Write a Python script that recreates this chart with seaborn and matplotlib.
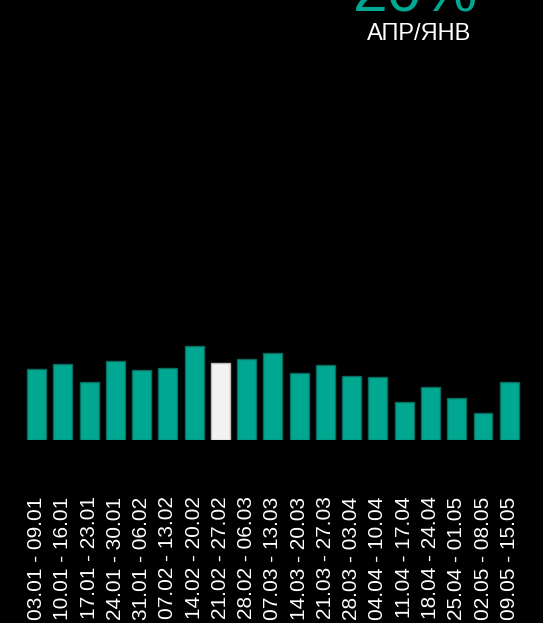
import matplotlib
matplotlib.use("Agg")
import matplotlib.pyplot as plt
import seaborn as sns
import pandas as pd

weeks = ["03.01 - 09.01", "10.01 - 16.01", "17.01 - 23.01", "24.01 - 30.01",
         "31.01 - 06.02", "07.02 - 13.02", "14.02 - 20.02", "21.02 - 27.02",
         "28.02 - 06.03", "07.03 - 13.03", "14.03 - 20.03", "21.03 - 27.03",
         "28.03 - 03.04", "04.04 - 10.04", "11.04 - 17.04", "18.04 - 24.04",
         "25.04 - 01.05", "02.05 - 08.05", "09.05 - 15.05"]
values = [70.5, 75.2, 57.8, 78.2, 69.2, 71.2, 93.8, 76.8, 80.8, 86.8,
          66.8, 74.8, 63.8, 62.8, 37.8, 52.5, 41.2, 26.5, 57.5]
highlight = "21.02 - 27.02"
headline = "20%"
subtitle = "АПР/ЯНВ"

TEAL = "#00A892"
TEAL_EDGE = "#0B6B5E"
WHITE = "#F2F2F1"
WHITE_EDGE = "#BBBBBB"

sns.set_theme(style="dark")
plt.rcParams["font.family"] = ["Liberation Sans", "DejaVu Sans"]

df = pd.DataFrame({"week": weeks, "value": values})
df["kind"] = ["hl" if w == highlight else "base" for w in weeks]

W, H = 543, 623
fig = plt.figure(figsize=(W / 100, H / 100), dpi=100, facecolor="black")
left = 23.4 / W
bottom = (H - 439.5) / H
ax = fig.add_axes([left, bottom, 499 / W, 100 / H])
ax.set_facecolor("black")

sns.barplot(data=df, x="week", y="value", hue="kind",
            palette={"base": TEAL, "hl": WHITE}, dodge=False,
            width=0.72, legend=False, ax=ax, saturation=1)
for p in ax.patches:
    fc = p.get_facecolor()
    if fc[0] > 0.5:
        p.set_edgecolor(WHITE_EDGE)
    else:
        p.set_edgecolor(TEAL_EDGE)
    p.set_linewidth(1.0)

ax.set_ylim(0, 100)
ax.set_xlim(-0.5, len(weeks) - 0.5)
ax.set_xlabel("")
ax.set_ylabel("")
ax.set_yticks([])
ax.grid(False)
for s in ax.spines.values():
    s.set_visible(False)
ax.tick_params(axis="x", length=0, pad=41, labelsize=15, labelcolor="white",
               labelrotation=90)

fig.text(415 / W, (H - 11) / H, headline, color=TEAL, fontsize=45,
         ha="center", va="baseline")
fig.text(419.5 / W, (H - 39.5) / H, subtitle, color="white", fontsize=17,
         ha="center", va="baseline")

fig.savefig("out.png", dpi=100, facecolor="black")
